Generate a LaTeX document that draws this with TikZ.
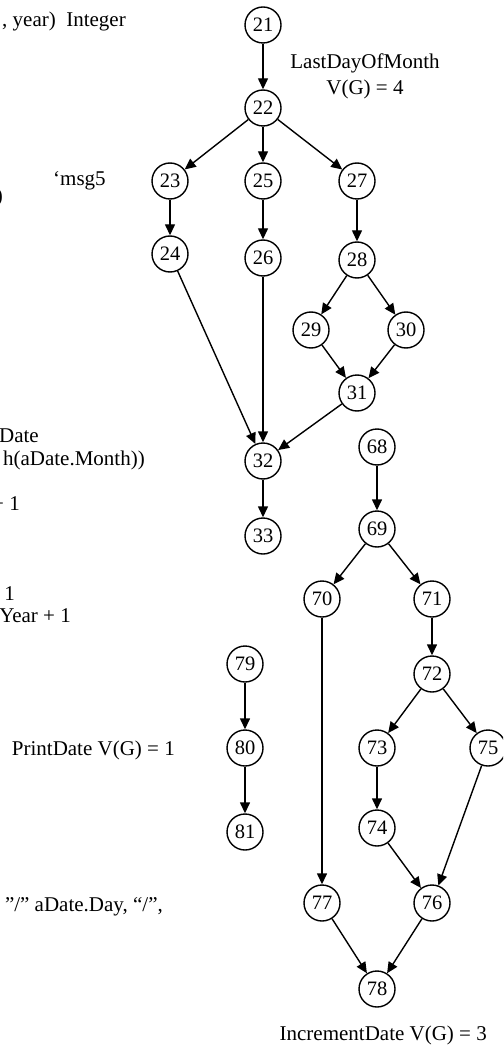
\documentclass[tikz,border=0pt]{standalone}
\usepackage{fontspec}
\setmainfont{Liberation Serif}
\usepackage{tikz}
\usetikzlibrary{arrows.meta}

\begin{document}
\begin{tikzpicture}[
    x=1pt, y=-1pt,
    >={Triangle[length=11pt,width=10pt]},
    font=\fontsize{21}{25}\selectfont,
    vtx/.style={draw, circle, line width=1.4pt, minimum size=36pt, inner sep=0pt,
                font=\fontsize{20.5}{24}\selectfont},
    lbl/.style={inner sep=0pt, anchor=base east},
    flow/.style={->, line width=1.4pt},
  ]
    \useasboundingbox (0,0) rectangle (503,1048);
    \clip (0,0) rectangle (503,1048);

    % cut text on the left
    \node[lbl] (t1) at (126,27) {, year)\ \ Integer};
    \node[lbl, anchor=base west] (t2) at (53,186) {‘msg5};
    \node[lbl] (t3) at (3,203) {)};
    \node[lbl] (t4) at (39,442) {Date};
    \node[lbl] (t5) at (145,465) {h(aDate.Month))};
    \node[lbl] (t6) at (20,510) {+ 1};
    \node[lbl] (t7) at (15,600) {+ 1};
    \node[lbl] (t8) at (71,622) {Year + 1};
    \node[lbl] (t9) at (175,755) {PrintDate V(G) = 1};
    \node[lbl] (t10) at (163,911) {, ”/” aDate.Day, “/”,};

    % LastDayOfMonth
    \node[vtx] (n21) at (263,25) {21};
    \node[vtx] (n22) at (263,108) {22};
    \node[vtx] (n23) at (170,181) {23};
    \node[vtx] (n25) at (263,181) {25};
    \node[vtx] (n27) at (357,181) {27};
    \node[vtx] (n24) at (170,254) {24};
    \node[vtx] (n26) at (263,258) {26};
    \node[vtx] (n28) at (357,260) {28};
    \node[vtx] (n29) at (311,330) {29};
    \node[vtx] (n30) at (406,330) {30};
    \node[vtx] (n31) at (357,393) {31};
    \node[vtx] (n32) at (263,461) {32};
    \node[vtx] (n33) at (263,536) {33};
    \node[lbl, anchor=base] (ldm) at (365,69) {LastDayOfMonth};
    \node[lbl, anchor=base] (ldmv) at (365,95) {V(G) = 4};

    \draw[flow] (n21) -- (n22);
    \draw[flow] (n22) -- (n23);
    \draw[flow] (n22) -- (n25);
    \draw[flow] (n22) -- (n27);
    \draw[flow] (n23) -- (n24);
    \draw[flow] (n25) -- (n26);
    \draw[flow] (n27) -- (n28);
    \draw[flow] (n28) -- (n29);
    \draw[flow] (n28) -- (n30);
    \draw[flow] (n29) -- (n31);
    \draw[flow] (n30) -- (n31);
    \draw[flow] (n24) -- (n32);
    \draw[flow] (n26) -- (n32);
    \draw[flow] (n31) -- (n32);
    \draw[flow] (n32) -- (n33);

    % PrintDate
    \node[vtx] (n79) at (245,664) {79};
    \node[vtx] (n80) at (245,748) {80};
    \node[vtx] (n81) at (245,832) {81};
    \draw[flow] (n79) -- (n80);
    \draw[flow] (n80) -- (n81);

    % IncrementDate
    \node[vtx] (n68) at (377,447) {68};
    \node[vtx] (n69) at (377,529) {69};
    \node[vtx] (n70) at (322,599) {70};
    \node[vtx] (n71) at (432,599) {71};
    \node[vtx] (n72) at (432,674) {72};
    \node[vtx] (n73) at (377,748) {73};
    \node[vtx] (n75) at (488,748) {75};
    \node[vtx] (n74) at (377,828) {74};
    \node[vtx] (n77) at (322,903) {77};
    \node[vtx] (n76) at (432,903) {76};
    \node[vtx] (n78) at (377,989) {78};
    \node[lbl] (incd) at (487,1040) {IncrementDate V(G) = 3};

    \draw[flow] (n68) -- (n69);
    \draw[flow] (n69) -- (n70);
    \draw[flow] (n69) -- (n71);
    \draw[flow] (n71) -- (n72);
    \draw[flow] (n72) -- (n73);
    \draw[flow] (n72) -- (n75);
    \draw[flow] (n73) -- (n74);
    \draw[flow] (n70) -- (n77);
    \draw[flow] (n74) -- (n76);
    \draw[flow] (n75) -- (n76);
    \draw[flow] (n77) -- (n78);
    \draw[flow] (n76) -- (n78);
\end{tikzpicture}
\end{document}
